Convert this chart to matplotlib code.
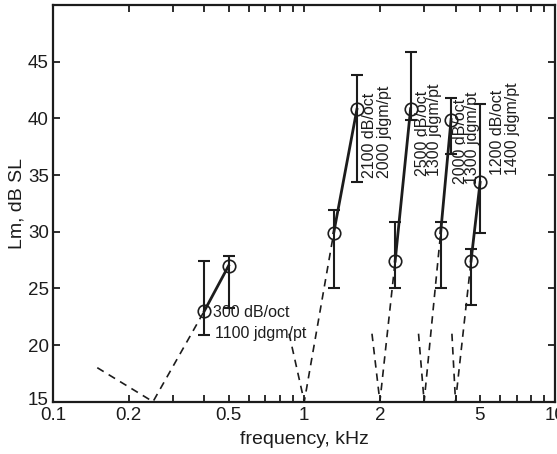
import matplotlib
matplotlib.use("Agg")
import matplotlib.pyplot as plt
import matplotlib.transforms as mtransforms
from matplotlib.ticker import FixedLocator, FixedFormatter, NullLocator

plt.rcParams['font.family'] = ['Liberation Sans', 'DejaVu Sans']

# Each pair: a lower-frequency and a higher-frequency measurement
f_low = [0.40, 1.31, 2.30, 3.49, 4.61]
f_high = [0.50, 1.62, 2.65, 3.84, 5.01]
lm_low = [23.0, 29.9, 27.4, 29.9, 27.4]
lm_high = [27.0, 40.8, 40.85, 39.9, 34.35]

# Error bar extents (bottom, top) for each point
low_bar_min = [20.9, 25.0, 25.0, 25.0, 23.5]
low_bar_max = [27.4, 31.9, 30.85, 30.85, 28.45]
high_bar_min = [23.3, 34.35, 39.9, 36.85, 29.9]
high_bar_max = [27.9, 43.8, 45.85, 41.8, 41.3]

# Dashed V-shaped filter skirts: start of left arm, vertex at threshold floor
skirt_start_f = [0.15, 0.87, 1.86, 2.85, 3.87]
skirt_start_lm = [18.0, 21.0, 21.0, 21.0, 21.0]
skirt_vertex_f = [0.25, 1.0, 2.0, 3.0, 4.0]
floor_lm = 15.0

slope_labels = ["300 dB/oct", "2100 dB/oct", "2500 dB/oct", "2000 dB/oct", "1200 dB/oct"]
jnd_labels = ["1100 jdgm/pt", "2000 jdgm/pt", "1300 jdgm/pt", "1300 jdgm/pt", "1400 jdgm/pt"]

xtick_vals = [0.1, 0.2, 0.3, 0.4, 0.5, 0.6, 0.7, 0.8, 0.9,
              1, 2, 3, 4, 5, 6, 7, 8, 9, 10]
xtick_text = {0.1: "0.1", 0.2: "0.2", 0.5: "0.5", 1: "1", 2: "2", 5: "5", 10: "10"}
ytick_vals = [15, 20, 25, 30, 35, 40, 45]

ink = "#1c1c1c"

fig = plt.figure(figsize=(5.57, 4.54), dpi=100)
ax = fig.add_axes([0.0952, 0.1152, 0.9021, 0.8737])
ax.set_xscale("log")
ax.set_xlim(0.1, 10)
ax.set_ylim(15, 50)

for i in range(len(f_low)):
    # dashed skirts
    ax.plot([skirt_start_f[i], skirt_vertex_f[i], f_low[i]],
            [skirt_start_lm[i], floor_lm, lm_low[i]],
            color=ink, lw=1.2, dashes=(4.5, 3.5), zorder=2)
    # error bars
    ax.errorbar([f_low[i], f_high[i]], [lm_low[i], lm_high[i]],
                yerr=[[lm_low[i] - low_bar_min[i], lm_high[i] - high_bar_min[i]],
                      [low_bar_max[i] - lm_low[i], high_bar_max[i] - lm_high[i]]],
                fmt="none", ecolor=ink, elinewidth=1.5, capsize=4.3, capthick=1.5,
                zorder=3)
    # connecting solid line and open circles
    ax.plot([f_low[i], f_high[i]], [lm_low[i], lm_high[i]],
            color=ink, lw=2.0, zorder=4)
    ax.plot([f_low[i], f_high[i]], [lm_low[i], lm_high[i]],
            ls="none", marker="o", ms=9, mfc="none", mec=ink, mew=1.2, zorder=5)

# Horizontal labels for the lowest pair
ax.text(0.4346, 22.9, slope_labels[0], fontsize=11.5, color=ink,
        ha="left", va="center")
ax.text(0.4426, 21.0, jnd_labels[0], fontsize=11.5, color=ink,
        ha="left", va="center")

# Vertical labels for the other pairs: (x of slope line, x of jnd line, bottom)
vert_pos = [(1.813, 2.080, 34.76), (2.959, 3.288, 34.9),
            (4.173, 4.677, 34.2), (5.88, 6.745, 35.0)]
for k, (xs, xj, yb) in enumerate(vert_pos, start=1):
    ax.text(xs, yb, slope_labels[k], fontsize=11.5, color=ink, rotation=90,
            ha="center", va="bottom")
    ax.text(xj, yb, jnd_labels[k], fontsize=11.5, color=ink, rotation=90,
            ha="center", va="bottom")

ax.xaxis.set_major_locator(FixedLocator(xtick_vals))
ax.xaxis.set_major_formatter(FixedFormatter([xtick_text.get(v, "") for v in xtick_vals]))
ax.xaxis.set_minor_locator(NullLocator())
ax.set_yticks(ytick_vals)
ax.yaxis.set_minor_locator(NullLocator())
ax.tick_params(which="both", direction="in", top=True, right=True,
               length=5, width=1.3, colors=ink, labelsize=13.5)
ax.tick_params(axis="x", pad=4)
ax.tick_params(axis="y", pad=3)
for s in ax.spines.values():
    s.set_linewidth(1.6)
    s.set_color(ink)

# lift the bottom y label so it clears the x tick labels
fig.canvas.draw()
bottom_lab = ax.yaxis.get_major_ticks()[0].label1
bottom_lab.set_transform(mtransforms.offset_copy(bottom_lab.get_transform(),
                                                 fig=fig, x=0, y=3, units="dots"))

ax.set_xlabel("frequency, kHz", fontsize=14, color=ink, labelpad=5)
ax.set_ylabel("Lm, dB SL", fontsize=14, color=ink, labelpad=2)

fig.savefig("out.png", dpi=100)
